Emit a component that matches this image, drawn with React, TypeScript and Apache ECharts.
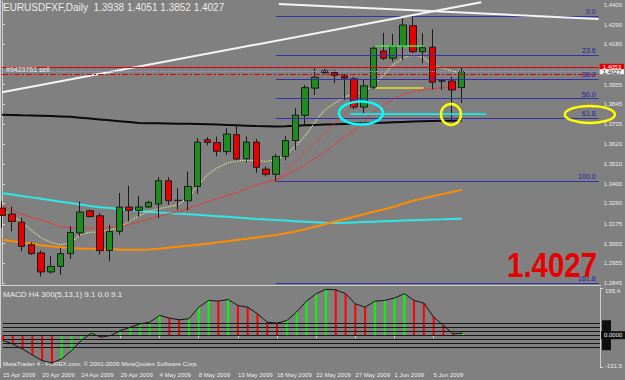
import React, { useEffect, useRef } from "react";
import * as echarts from "echarts";

const dates = [
  "15 Apr 2009","16 Apr 2009","17 Apr 2009","19 Apr 2009","20 Apr 2009","21 Apr 2009","22 Apr 2009","23 Apr 2009",
  "24 Apr 2009","26 Apr 2009","27 Apr 2009","28 Apr 2009","29 Apr 2009","30 Apr 2009","1 May 2009","3 May 2009",
  "4 May 2009","5 May 2009","6 May 2009","7 May 2009","8 May 2009","10 May 2009","11 May 2009","12 May 2009",
  "13 May 2009","14 May 2009","15 May 2009","17 May 2009","18 May 2009","19 May 2009","20 May 2009","21 May 2009",
  "22 May 2009","24 May 2009","25 May 2009","26 May 2009","27 May 2009","28 May 2009","29 May 2009","31 May 2009",
  "1 Jun 2009","2 Jun 2009","3 Jun 2009","4 Jun 2009","5 Jun 2009","7 Jun 2009","8 Jun 2009","9 Jun 2009",
  "10 Jun 2009","11 Jun 2009","12 Jun 2009","14 Jun 2009","15 Jun 2009","16 Jun 2009","17 Jun 2009","18 Jun 2009",
  "19 Jun 2009","21 Jun 2009","22 Jun 2009","23 Jun 2009","24 Jun 2009","25 Jun 2009",
];
const barCount = 48;

const opens = [1.3264,1.3231,1.3186,1.3059,1.3013,1.2907,1.2938,1.3009,1.3125,1.3249,1.3221,1.3027,1.3134,1.3270,1.3251,1.3270,
  1.3287,1.3417,1.3307,1.3305,1.3385,1.3646,1.3631,1.3580,1.3675,1.3540,1.3633,1.3482,1.3453,1.3553,1.3642,1.3783,
  1.3935,1.4031,1.4022,1.4003,1.3987,1.3829,1.3940,1.4143,1.4102,1.4173,1.4284,1.4139,1.4164,1.3975,1.3975,1.3938];
const highs = [1.3301,1.3273,1.3210,1.3072,1.3027,1.2994,1.3041,1.3162,1.3301,1.3255,1.3236,1.3171,1.3348,1.3389,1.3333,1.3305,
  1.3437,1.3437,1.3376,1.3469,1.3655,1.3661,1.3664,1.3711,1.3727,1.3665,1.3651,1.3497,1.3568,1.3667,1.3823,1.3953,
  1.4046,1.4041,1.4037,1.4015,1.3999,1.3981,1.4167,1.4244,1.4238,1.4326,1.4339,1.4242,1.4264,1.3977,1.3999,1.4051];
const lows = [1.3153,1.3134,1.3022,1.3003,1.2882,1.2897,1.2892,1.2979,1.3106,1.3210,1.3003,1.2966,1.3115,1.3189,1.3217,1.3266,
  1.3208,1.3283,1.3255,1.3251,1.3344,1.3615,1.3553,1.3562,1.3530,1.3520,1.3461,1.3441,1.3414,1.3531,1.3590,1.3724,
  1.3897,1.4013,1.3963,1.3869,1.3817,1.3795,1.3929,1.4093,1.4083,1.4093,1.4130,1.4074,1.3928,1.3925,1.3758,1.3852];
const closes = [1.3223,1.3189,1.3050,1.3009,1.2907,1.2938,1.3009,1.3128,1.3242,1.3217,1.3026,1.3134,1.3270,1.3251,1.3270,1.3296,
  1.3417,1.3305,1.3307,1.3385,1.3633,1.3631,1.3582,1.3678,1.3538,1.3633,1.3492,1.3453,1.3553,1.3642,1.3784,1.3938,
  1.3996,1.4022,1.4007,1.3991,1.3829,1.3948,1.4158,1.4102,1.4173,1.4288,1.4139,1.4161,1.3968,1.3975,1.3925,1.4027];

const maYellow = [1.3255,1.3222,1.3188,1.3140,1.3098,1.3072,1.3059,1.3070,1.3115,1.3128,1.3132,1.3140,1.3154,1.3190,1.3221,1.3245,
  1.3260,1.3272,1.3283,1.3320,1.3389,1.3450,1.3489,1.3516,1.3528,1.3531,1.3528,1.3525,1.3534,1.3562,1.3610,1.3668,
  1.3745,1.3813,1.3850,1.3885,1.3905,1.3914,1.3953,1.4009,1.4065,1.4104,1.4121,1.4110,1.4065,1.4048,1.4031,1.4020];
const maRed = [1.3277,1.3255,1.3230,1.3212,1.3199,1.3180,1.3160,1.3155,1.3151,1.3152,1.3155,1.3157,1.3160,1.3172,1.3188,1.3202,
  1.3217,1.3232,1.3245,1.3260,1.3280,1.3300,1.3318,1.3334,1.3350,1.3372,1.3394,1.3410,1.3421,1.3448,1.3477,1.3505,
  1.3545,1.3575,1.3620,1.3662,1.3702,1.3745,1.3800,1.3840,1.3875,1.3900,1.3915,1.3925,1.3932,1.3937,1.3940,1.3942];
const maCyan = [1.3348,1.3340,1.3332,1.3324,1.3316,1.3308,1.3300,1.3292,1.3284,1.3276,1.3269,1.3264,1.3259,1.3254,1.3249,1.3244,
  1.3240,1.3236,1.3232,1.3229,1.3227,1.3223,1.3219,1.3215,1.3211,1.3207,1.3203,1.3200,1.3197,1.3194,1.3191,1.3188,
  1.3185,1.3182,1.3181,1.3182,1.3184,1.3186,1.3188,1.3190,1.3192,1.3194,1.3196,1.3198,1.3200,1.3201,1.3203,1.3204];
const maOrange = [1.3087,1.3080,1.3072,1.3064,1.3056,1.3050,1.3045,1.3041,1.3038,1.3036,1.3034,1.3033,1.3032,1.3031,1.3031,1.3033,
  1.3037,1.3042,1.3048,1.3053,1.3059,1.3065,1.3071,1.3078,1.3085,1.3092,1.3099,1.3106,1.3114,1.3123,1.3133,1.3145,
  1.3160,1.3174,1.3188,1.3202,1.3216,1.3230,1.3243,1.3256,1.3270,1.3288,1.3305,1.3317,1.3330,1.3342,1.3354,1.3366];
const maBlack = [1.3786,1.3785,1.3783,1.3782,1.3781,1.3779,1.3777,1.3775,1.3770,1.3765,1.3760,1.3755,1.3750,1.3745,1.3740,1.3739,
  1.3738,1.3737,1.3736,1.3736,1.3735,1.3733,1.3731,1.3729,1.3727,1.3725,1.3723,1.3722,1.3721,1.3722,1.3724,1.3727,
  1.3729,1.3731,1.3733,1.3735,1.3737,1.3739,1.3740,1.3742,1.3744,1.3746,1.3748,1.3750,1.3751,1.3752,1.3753,1.3754];

const macdHist = [-22,-36,-57,-82,-105,-115,-98,-64,-22,8,-8,-1,19,33,47,54,82,71,64,68,116,144,141,148,123,116,89,54,50,61,96,141,
  172,190,188,172,130,116,141,144,154,172,144,133,75,40,6,9];

const priceTicks = [1.44, 1.429, 1.418, 1.3955, 1.3845, 1.3735, 1.362, 1.351, 1.34, 1.329, 1.3175, 1.3065, 1.2955, 1.2845];
const macdTicks = [195.4, -131.5];
const macdLevels = [49.5, 33, 16.5, 0, -16.5, -33, -49.5];

const fibLevels = [0, 23.6, 38.2, 50, 61.8, 100, 161.8];
const fibHigh = 1.4339;
const fibLow = 1.3414;
const fibStartBar = 28;

const trendLines = [
  { x1: 0, y1: 1.3912, x2: 49, y2: 1.4415, color: "#f4f4f4", type: "solid", width: 2 },
  { x1: 28.3, y1: 1.4406, x2: 61, y2: 1.4322, color: "#f4f4f4", type: "solid", width: 2 },
  { x1: 28, y1: 1.3414, x2: 36, y2: 1.3846, color: "#e04040", type: "dotted", width: 1.2 },
];
const hLinePrice = 1.4054;
const hLineLabel = "1.4053";
const orderPrice = 1.4014;
const orderLabel = "#9423761 sell";
const bidPrice = 1.4027;
const cyanSeg = { x1: 35.6, x2: 49.5, y: 1.3791 };
const yellowSeg = { x1: 38.2, x2: 43.1, y: 1.3938 };
const greenSeg = { x1: 38.2, x2: 43.1, y: 1.4173 };
const ellipses = [
  { x: 36.7, y: 1.3796, rx: 22, ry: 11.5, color: "#00ffff" },
  { x: 45.9, y: 1.3788, rx: 10, ry: 10.5, color: "#ffff00" },
  { x: 60.1, y: 1.3788, rx: 25, ry: 8.5, color: "#ffff00" },
];

const titleText = "EURUSDFXF,Daily  1.3938 1.4051 1.3852 1.4027";
const macdTitle = "MACD H4 300(5,13,1) 9.1 0.0 9.1";
const copyright = "MetaTrader 4 - FOREX.com, \u00a9 2001-2009 MetaQuotes Software Corp.";
const bigPrice = "1.4027";

const FONT = "Liberation Sans";
const FIB = "#3232aa";
const TXT = "#ececec";

export default function App() {
  const ref = useRef<HTMLDivElement>(null);
  useEffect(() => {
    document.body.style.margin = "0";
    const chart = echarts.init(ref.current!, null, { renderer: "svg" });
    const lastIdx = dates.length - 1;
    const showLabel = (i: number) => i % 4 === 0 && i < barCount;

    const candleData = opens.map((o, i) => [o, closes[i], lows[i], highs[i]]);
    const maLine = (data: number[], color: string, width: number, type: any = "solid") => ({
      type: "line", xAxisIndex: 0, yAxisIndex: 0, data, symbol: "none", silent: true,
      lineStyle: { color, width, type }, z: 3,
    });

    const seg = (x1: number, y1: number, x2: number, y2: number, lineStyle: any, label?: any) => [
      { coord: [x1, y1], lineStyle, label: label || { show: false } },
      { coord: [x2, y2] },
    ];

    const fibItems = fibLevels.map((l) => {
      const p = fibHigh - ((fibHigh - fibLow) * l) / 100;
      return seg(fibStartBar, p, lastIdx, p, { color: FIB, width: 1, type: "solid" }, {
        show: true, position: "insideEndTop", formatter: l.toFixed(1), color: "#2020a0",
        fontSize: 7, fontFamily: FONT, distance: [3, 1],
      });
    });

    const markItems: any[] = [
      ...fibItems,
      ...trendLines.map((t) => seg(t.x1, t.y1, t.x2, t.y2, { color: t.color, width: t.width, type: t.type })),
      seg(0, hLinePrice, lastIdx, hLinePrice, { color: "#e00000", width: 1, type: "solid" }, {
        show: true, position: "end", formatter: hLineLabel, backgroundColor: "#e00000", color: "#ffffff",
        fontSize: 6, fontFamily: FONT, padding: [0, 3, 0, 3], distance: 1, lineHeight: 6,
      }),
      seg(0, bidPrice, lastIdx, bidPrice, { color: "#9a9ad0", width: 1, type: "dotted" }, {
        show: true, position: "end", formatter: bidPrice.toFixed(4), backgroundColor: "#f4f4f4", color: "#202020",
        fontSize: 6, fontFamily: FONT, padding: [0, 3, 0, 3], distance: 1, lineHeight: 5,
      }),
      seg(0, orderPrice, lastIdx, orderPrice, { color: "#e00000", width: 1, type: [6, 2, 2, 2] }, {
        show: true, position: "insideStartTop", formatter: orderLabel, color: TXT,
        fontSize: 7, fontFamily: FONT, distance: [4, 1],
      }),
      seg(cyanSeg.x1, cyanSeg.y, cyanSeg.x2, cyanSeg.y, { color: "#00ffff", width: 1.5, type: "solid" }),
      seg(yellowSeg.x1, yellowSeg.y, yellowSeg.x2, yellowSeg.y, { color: "#e8e020", width: 1.5, type: "solid" }),
      seg(greenSeg.x1, greenSeg.y, greenSeg.x2, greenSeg.y, { color: "#40ee40", width: 1.5, type: "solid" }),
    ];

    const macdColors = macdHist.map((v, i) => (i === 0 || v < macdHist[i - 1] ? "#ff0000" : "#00ff00"));

    const option: any = {
      animation: false,
      backgroundColor: "#808080",
      textStyle: { fontFamily: FONT },
      grid: [
        { left: 2, right: 24, top: 1, height: 283 },
        { left: 2, right: 24, top: 288, height: 79 },
      ],
      xAxis: [
        { type: "category", gridIndex: 0, data: dates, boundaryGap: false, show: false },
        { type: "value", gridIndex: 0, min: 0, max: lastIdx, show: false },
        {
          type: "category", gridIndex: 1, data: dates, boundaryGap: false,
          axisLine: { show: true, lineStyle: { color: "#c8c8c8", width: 1 } },
          axisTick: { show: true, interval: showLabel, length: 3, lineStyle: { color: "#d8d8d8" } },
          axisLabel: { interval: showLabel, align: "left", fontSize: 6, color: TXT, margin: 5, fontFamily: FONT },
          splitLine: { show: false },
        },
      ],
      yAxis: [
        {
          type: "value", gridIndex: 0, position: "right", min: 1.283941, max: 1.442237, scale: true,
          axisLine: { show: true, lineStyle: { color: "#d0d0d0" } },
          axisTick: { show: true, customValues: priceTicks, length: 3, lineStyle: { color: "#d8d8d8" } },
          axisLabel: { customValues: priceTicks, formatter: (v: number) => v.toFixed(4), fontSize: 6, color: TXT, margin: 5, fontFamily: FONT },
          splitLine: { show: false },
        },
        {
          type: "value", gridIndex: 1, position: "right", min: -131.5, max: 195.4,
          axisLine: { show: true, lineStyle: { color: "#d0d0d0" } },
          axisTick: { show: true, customValues: macdTicks, length: 3, lineStyle: { color: "#d8d8d8" } },
          axisLabel: {
            customValues: macdTicks, fontSize: 6, color: TXT, margin: 5, fontFamily: FONT,
            formatter: (v: number) => (v > 0 ? `{t|${v.toFixed(1)}}` : `{b|${v.toFixed(1)}}`),
            rich: {
              t: { fontSize: 6, color: TXT, padding: [6, 0, 0, 0] },
              b: { fontSize: 6, color: TXT, padding: [0, 0, 2, 0] },
            },
          },
          splitLine: { show: false },
        },
      ],
      series: [
        {
          type: "line", xAxisIndex: 1, yAxisIndex: 0, data: [[0, 1.40]], symbol: "none", silent: true,
          lineStyle: { width: 0, opacity: 0 }, clip: false, z: 2,
          markLine: { symbol: ["none", "none"], silent: true, animation: false, data: markItems },
        },
        maLine(maBlack, "#0a0a0a", 2),
        maLine(maCyan, "#2ee8e8", 2),
        maLine(maOrange, "#ff8c00", 2),
        maLine(maRed, "#e03c3c", 1),
        maLine(maYellow, "#e6e68a", 1.2, "dotted"),
        {
          type: "candlestick", xAxisIndex: 0, yAxisIndex: 0, data: candleData, barWidth: 7, clip: false, z: 4,
          itemStyle: { color: "#1e8c1e", color0: "#e60000", borderColor: "#1a1a1a", borderColor0: "#1a1a1a", borderWidth: 1 },
        },
        {
          type: "bar", xAxisIndex: 2, yAxisIndex: 1, barWidth: 2, silent: true,
          data: macdHist.map((v, i) => ({ value: v, itemStyle: { color: macdColors[i] } })),
          markLine: {
            symbol: ["none", "none"], silent: true, animation: false,
            data: macdLevels.map((l) => ({
              yAxis: l, lineStyle: { color: "#161616", width: 1, type: "solid" },
              label: l === 0 ? {
                show: true, position: "end", formatter: "0.0000",
                backgroundColor: "#101010", color: "#f0f0f0", fontSize: 6, padding: [1, 3], distance: 1,
              } : { show: false },
            })),
          },
        },
        {
          type: "line", xAxisIndex: 2, yAxisIndex: 1, data: macdHist, symbol: "none", silent: true,
          lineStyle: { color: "#141414", width: 1 }, z: 3,
        },
      ],
    };
    chart.setOption(option);

    const toPx = (x: number, y: number) => chart.convertToPixel({ xAxisIndex: 1, yAxisIndex: 0 } as any, [x, y]) as number[];
    const lvlPx = (v: number) => (chart.convertToPixel({ xAxisIndex: 2, yAxisIndex: 1 } as any, [0, v]) as number[])[1];
    const topLvl = lvlPx(macdLevels[0]);
    const botLvl = lvlPx(macdLevels[macdLevels.length - 1]);
    const graphics: any[] = [
      { type: "line", shape: { x1: 0, y1: 285.5, x2: 601, y2: 285.5 }, style: { stroke: "#d0d0d0", lineWidth: 1 }, silent: true },
      { type: "line", shape: { x1: 0.5, y1: 0, x2: 0.5, y2: 368 }, style: { stroke: "#d0d0d0", lineWidth: 1 }, silent: true },
      { type: "rect", shape: { x: 602, y: topLvl - 3, width: 9, height: botLvl - topLvl + 6 }, style: { fill: "#101010" }, silent: true, z: 5 },
      { type: "text", x: 3, y: 2, style: { text: titleText, fill: TXT, font: `10px "${FONT}"` }, silent: true },
      { type: "text", x: 3, y: 290, style: { text: macdTitle, fill: TXT, font: `8px "${FONT}"` }, silent: true },
      { type: "text", x: 3, y: 360, style: { text: copyright, fill: TXT, font: `6.2px "${FONT}"` }, silent: true },
      {
        type: "text", x: 597, y: 248, scaleX: 0.84,
        style: { text: bigPrice, fill: "#e60000", font: `bold 35px "${FONT}"`, textAlign: "right" }, silent: true, z: 10,
      },
      ...ellipses.map((e) => {
        const [cx, cy] = toPx(e.x, e.y);
        return {
          type: "ellipse", shape: { cx, cy, rx: e.rx, ry: e.ry },
          style: { fill: "none", stroke: e.color, lineWidth: 2.5 }, silent: true, z: 10,
        };
      }),
    ];
    chart.setOption({ graphic: graphics });
    return () => chart.dispose();
  }, []);
  return <div ref={ref} style={{ position: "fixed", left: 0, top: 0, width: 625, height: 380 }} />;
}
